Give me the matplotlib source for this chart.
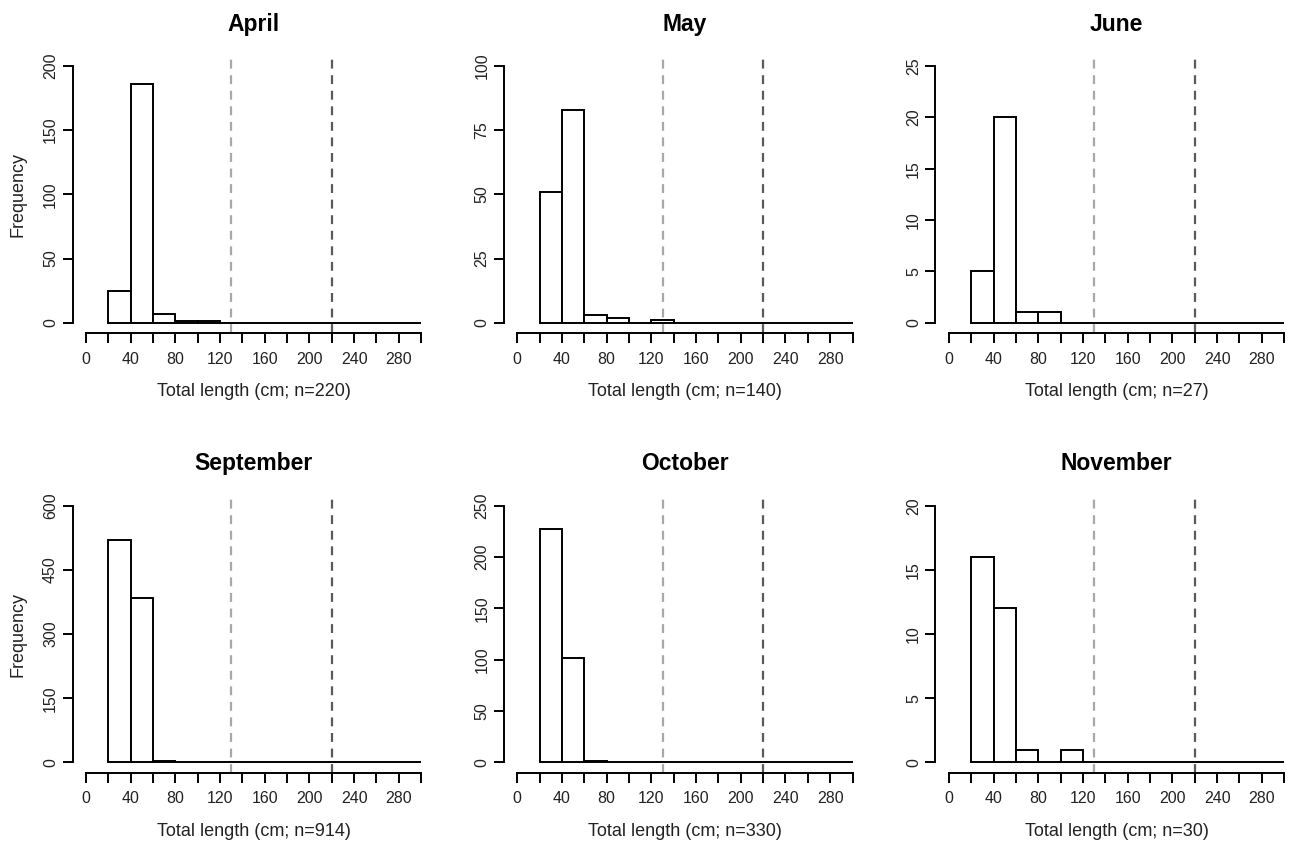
import matplotlib
matplotlib.use("Agg")
import matplotlib.pyplot as plt
import numpy as np

plt.rcParams["font.family"] = ["Liberation Sans", "DejaVu Sans"]

# histogram bins: 20-cm classes from 20 to 300 cm
bin_edges = np.arange(20, 301, 20)

months = ["April", "May", "June", "September", "October", "November"]
sample_sizes = [220, 140, 27, 914, 330, 30]

# counts per bin (20-40, 40-60, ..., 280-300)
april = [25, 186, 7, 1, 1, 0, 0, 0, 0, 0, 0, 0, 0, 0]
may = [51, 83, 3, 2, 0, 1, 0, 0, 0, 0, 0, 0, 0, 0]
june = [5, 20, 1, 1, 0, 0, 0, 0, 0, 0, 0, 0, 0, 0]
september = [521, 385, 4, 2, 1, 0, 0, 0, 0, 0, 1, 0, 0, 0]
october = [227, 102, 1, 0, 0, 0, 0, 0, 0, 0, 0, 0, 0, 0]
november = [16, 12, 1, 0, 1, 0, 0, 0, 0, 0, 0, 0, 0, 0]
counts = [april, may, june, september, october, november]

# y-axis tick sets per panel
y_ticks = [
    [0, 50, 100, 150, 200],
    [0, 25, 50, 75, 100],
    [0, 5, 10, 15, 20, 25],
    [0, 150, 300, 450, 600],
    [0, 50, 100, 150, 200, 250],
    [0, 5, 10, 15, 20],
]

x_ticks = np.arange(0, 301, 20)
x_ticklabels = [str(v) if v % 40 == 0 and v < 300 else "" for v in x_ticks]

# reference lengths marked with dashed lines
ref_lines = [130, 220]
ref_colors = ["#a8a8a8", "#5a5a5a"]

fig = plt.figure(figsize=(12.93, 8.43), dpi=100)

col_left = [0.0561, 0.3897, 0.7235]
row_bottom = [0.6050, 0.0834]
ax_w, ax_h = 0.2800, 0.3289

for i, month in enumerate(months):
    r, c = divmod(i, 3)
    ax = fig.add_axes([col_left[c], row_bottom[r], ax_w, ax_h])

    ymax = y_ticks[i][-1]
    ax.set_xlim(-12, 312)
    ax.set_ylim(-0.04 * ymax, 1.04 * ymax)

    for x, col in zip(ref_lines, ref_colors):
        ax.axvline(x, color=col, linewidth=1.6, linestyle=(0, (4, 3)), zorder=1)

    ax.bar(bin_edges[:-1], counts[i], width=20, align="edge",
           facecolor="white", edgecolor="black", linewidth=1.4, zorder=2)

    for side in ["top", "right"]:
        ax.spines[side].set_visible(False)
    ax.spines["left"].set_bounds(0, ymax)
    ax.spines["bottom"].set_bounds(0, 300)
    ax.spines["left"].set_linewidth(1.4)
    ax.spines["bottom"].set_linewidth(1.4)

    ax.set_xticks(x_ticks)
    ax.set_xticklabels(x_ticklabels)
    ax.set_yticks(y_ticks[i])
    ax.set_yticklabels([str(v) for v in y_ticks[i]], rotation=90, va="center")

    ax.tick_params(axis="both", direction="out", length=7.5, width=1.4,
                   labelsize=11.5, colors="black", labelcolor="#222222")
    ax.tick_params(axis="x", pad=6)
    ax.tick_params(axis="y", pad=3)

    ax.set_xlabel(f"Total length (cm; n={sample_sizes[i]})", fontsize=13,
                  labelpad=12, color="#222222")
    if c == 0:
        ax.set_ylabel("Frequency", fontsize=13, labelpad=12, color="#222222")

    ax.set_title(month, fontsize=16.5, fontweight="bold", pad=18)

fig.savefig("out.png", dpi=100)
